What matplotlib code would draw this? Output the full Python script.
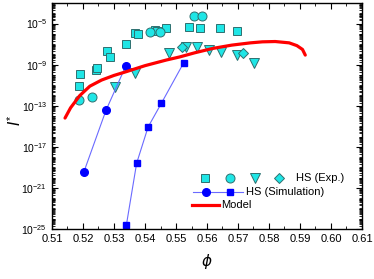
import math
import matplotlib
matplotlib.use("Agg")
import matplotlib.pyplot as plt
from matplotlib.ticker import LogLocator, MultipleLocator, FixedLocator, NullFormatter, FuncFormatter

plt.rcParams['font.family'] = ['Liberation Sans', 'DejaVu Sans']
plt.rcParams['mathtext.default'] = 'regular'

# experimental hard spheres
sq_phi = [0.5187, 0.5191, 0.5242, 0.5246, 0.5278, 0.5288, 0.5339, 0.5368, 0.5379,
          0.5432, 0.5440, 0.5468, 0.5541, 0.5576, 0.5641, 0.5697]
sq_logI = [-11.07, -9.90, -9.50, -9.30, -7.68, -8.30, -6.97, -5.94, -6.04,
           -5.60, -5.75, -5.39, -5.30, -5.39, -5.42, -5.75]
ci_phi = [0.5188, 0.5229, 0.5415, 0.5447, 0.5557, 0.5583]
ci_logI = [-12.42, -12.16, -5.84, -5.87, -4.29, -4.29]
tr_phi = [0.5302, 0.5368, 0.5479, 0.5533, 0.5567, 0.5606, 0.5646, 0.5696, 0.5752]
tr_logI = [-11.20, -9.78, -7.90, -7.27, -7.27, -7.58, -7.80, -8.07, -8.87]
di_phi = [0.5518, 0.5716]
di_logI = [-7.27, -7.84]

# simulation
simc_phi = [0.5203, 0.5274, 0.5338]
simc_logI = [-19.43, -13.46, -9.13]
sims_phi = [0.5340, 0.5373, 0.5410, 0.5453, 0.5525]
sims_logI = [-24.6, -18.6, -15.07, -12.75, -8.81]

# model curve
mod_phi = [0.5142, 0.5160, 0.5190, 0.5222, 0.5260, 0.5300, 0.5340, 0.5400, 0.5469,
           0.5512, 0.5560, 0.5619, 0.5680, 0.5740, 0.5779, 0.5820, 0.5865, 0.5890,
           0.5908, 0.5917]
mod_logI = [-14.2, -13.2, -12.0, -11.1, -10.5, -10.05, -9.68, -9.1, -8.55,
            -8.25, -7.85, -7.42, -7.1, -6.88, -6.78, -6.75, -6.88, -7.15,
            -7.52, -8.07]

tp = lambda v: [10.0 ** x for x in v]

cyan = '#1fe6e6'
edge = '#2f6f6f'

fig = plt.figure(figsize=(3.74, 2.79), dpi=100)
ax = fig.add_axes([52 / 374, 1 - 229 / 279, 310 / 374, 226 / 279])

ms = 6
ax.plot(sq_phi, tp(sq_logI), 's', ms=ms, mfc=cyan, mec=edge, mew=0.7, ls='none')
ax.plot(ci_phi, tp(ci_logI), 'o', ms=ms + 0.5, mfc=cyan, mec=edge, mew=0.7, ls='none')
ax.plot(tr_phi, tp(tr_logI), 'v', ms=ms + 1, mfc=cyan, mec=edge, mew=0.7, ls='none')
ax.plot(di_phi, tp(di_logI), 'D', ms=ms - 0.5, mfc=cyan, mec=edge, mew=0.7, ls='none')

ax.plot(simc_phi, tp(simc_logI), '-o', color='#6a6aff', lw=0.8, ms=5.5,
        mfc='#0000ff', mec='#0000ff')
ax.plot(sims_phi, tp(sims_logI), '-s', color='#6a6aff', lw=0.8, ms=5,
        mfc='#0000ff', mec='#0000ff')

ax.plot(mod_phi, tp(mod_logI), '-', color='#ff0000', lw=2.3, solid_capstyle='round')

ax.set_yscale('log')
ax.set_xlim(0.51, 0.61)
ax.set_ylim(1e-25, 1e-3)

ax.xaxis.set_major_locator(MultipleLocator(0.01))
ax.xaxis.set_minor_locator(MultipleLocator(0.005))
ax.xaxis.set_major_formatter(FuncFormatter(lambda v, p: '%.2f' % v))
ax.yaxis.set_major_locator(FixedLocator([10.0 ** e for e in range(-25, -2, 4)]))
ax.yaxis.set_minor_locator(LogLocator(base=10, subs=range(1, 10), numticks=100))
ax.yaxis.set_minor_formatter(NullFormatter())
ax.yaxis.set_major_formatter(FuncFormatter(lambda v, p: r'$10^{%d}$' % round(math.log10(v))))

ax.tick_params(which='both', direction='in', top=True, right=True, labelsize=8)
ax.tick_params(axis='y', labelsize=7.5)
ax.tick_params(which='major', length=4, width=0.8)
ax.tick_params(which='minor', length=2, width=0.6)
for s in ax.spines.values():
    s.set_linewidth(1.0)

ax.set_xlabel(r'$\mathit{\phi}$', fontsize=11, labelpad=6)
fig.text(15 / 374, 1 - 120 / 279, r'$\mathit{I}^{*}$', fontsize=11, rotation=90,
         ha='center', va='center')

# legend drawn in axes coordinates
tr = ax.transAxes
y1, y2, y3 = 0.227, 0.165, 0.106
ax.plot([0.494], [y1], 's', ms=ms, mfc=cyan, mec=edge, mew=0.7, transform=tr)
ax.plot([0.574], [y1], 'o', ms=ms + 0.5, mfc=cyan, mec=edge, mew=0.7, transform=tr)
ax.plot([0.656], [y1], 'v', ms=ms + 1, mfc=cyan, mec=edge, mew=0.7, transform=tr)
ax.plot([0.733], [y1], 'D', ms=ms - 0.5, mfc=cyan, mec=edge, mew=0.7, transform=tr)
ax.text(0.787, y1, 'HS (Exp.)', fontsize=8, va='center', ha='left', transform=tr)

ax.plot([0.454, 0.615], [y2, y2], '-', color='#6a6aff', lw=0.8, transform=tr)
ax.plot([0.497], [y2], 'o', ms=5.5, color='#0000ff', transform=tr)
ax.plot([0.575], [y2], 's', ms=5, color='#0000ff', transform=tr)
ax.text(0.626, y2, 'HS (Simulation)', fontsize=8, va='center', ha='left', transform=tr)

ax.plot([0.452, 0.540], [y3, y3], '-', color='#ff0000', lw=2.3, transform=tr)
ax.text(0.546, y3, 'Model', fontsize=8, va='center', ha='left', transform=tr)

fig.savefig('out.png', dpi=100)
